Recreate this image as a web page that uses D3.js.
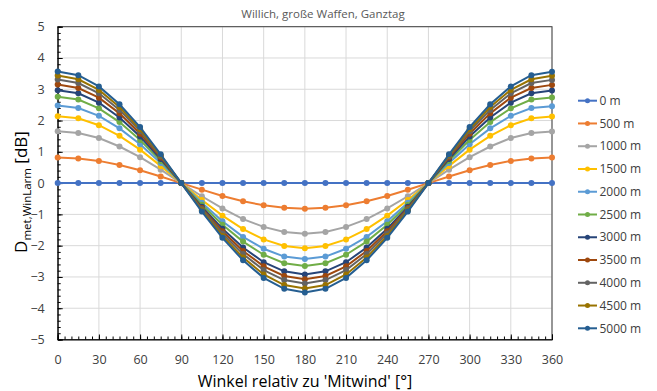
<!DOCTYPE html>
<html><head><meta charset="utf-8">
<script src="https://cdn.jsdelivr.net/npm/d3@7"></script>
<style>body{margin:0;background:#fff}svg{display:block}</style>
</head><body><svg id="c" width="657" height="391"></svg>
<script>
const angles = [0,15,30,45,60,75,90,105,120,135,150,165,180,195,210,225,240,255,270,285,300,315,330,345,360];
const seriesNames = ["0 m","500 m","1000 m","1500 m","2000 m","2500 m","3000 m","3500 m","4000 m","4500 m","5000 m"];
const colors = ["#4472C4","#ED7D31","#A5A5A5","#FFC000","#5B9BD5","#70AD47","#264478","#9E480E","#636363","#997300","#255E91"];
const s0    = [0,0,0,0,0,0,0,0,0,0,0,0,0,0,0,0,0,0,0,0,0,0,0,0,0];
const s500  = [0.82,0.79,0.71,0.58,0.41,0.21,0,-0.21,-0.41,-0.58,-0.71,-0.79,-0.82,-0.79,-0.71,-0.58,-0.41,-0.21,0,0.21,0.41,0.58,0.71,0.79,0.82];
const s1000 = [1.66,1.60,1.44,1.17,0.83,0.43,0,-0.42,-0.81,-1.15,-1.40,-1.56,-1.62,-1.56,-1.40,-1.15,-0.81,-0.42,0,0.43,0.83,1.17,1.44,1.60,1.65];
const s1500 = [2.14,2.07,1.85,1.51,1.07,0.55,0,-0.54,-1.04,-1.47,-1.80,-2.01,-2.08,-2.01,-1.80,-1.47,-1.04,-0.54,0,0.55,1.07,1.51,1.85,2.07,2.13];
const s2000 = [2.48,2.40,2.15,1.75,1.24,0.64,0,-0.63,-1.22,-1.72,-2.10,-2.35,-2.43,-2.35,-2.10,-1.72,-1.22,-0.63,0,0.64,1.24,1.75,2.15,2.40,2.46];
const s2500 = [2.76,2.67,2.39,1.95,1.38,0.71,0,-0.69,-1.33,-1.87,-2.29,-2.56,-2.65,-2.56,-2.29,-1.87,-1.33,-0.69,0,0.71,1.38,1.95,2.39,2.67,2.74];
const s3000 = [2.97,2.87,2.57,2.10,1.49,0.77,0,-0.76,-1.46,-2.06,-2.53,-2.82,-2.92,-2.82,-2.53,-2.06,-1.46,-0.76,0,0.77,1.49,2.10,2.57,2.87,2.96];
const s3500 = [3.15,3.04,2.73,2.23,1.58,0.82,0,-0.80,-1.54,-2.17,-2.66,-2.97,-3.07,-2.97,-2.66,-2.17,-1.54,-0.80,0,0.82,1.58,2.23,2.73,3.04,3.14];
const s4000 = [3.31,3.20,2.87,2.34,1.66,0.86,0,-0.83,-1.61,-2.27,-2.78,-3.10,-3.21,-3.10,-2.78,-2.27,-1.61,-0.83,0,0.86,1.66,2.34,2.87,3.20,3.30];
const s4500 = [3.44,3.32,2.98,2.43,1.72,0.89,0,-0.87,-1.69,-2.38,-2.92,-3.26,-3.37,-3.26,-2.92,-2.38,-1.69,-0.87,0,0.89,1.72,2.43,2.98,3.32,3.43];
const s5000 = [3.57,3.45,3.09,2.52,1.79,0.92,0,-0.91,-1.75,-2.47,-3.03,-3.38,-3.50,-3.38,-3.03,-2.47,-1.75,-0.91,0,0.92,1.79,2.52,3.09,3.45,3.56];
const seriesValues = [s0,s500,s1000,s1500,s2000,s2500,s3000,s3500,s4000,s4500,s5000];
const xTicks = [0,30,60,90,120,150,180,210,240,270,300,330,360];
const yTicks = [-5,-4,-3,-2,-1,0,1,2,3,4,5];
const title = "Willich, große Waffen, Ganztag";

const svg = d3.select("#c");
const L = 57.7, R = 552, T = 26.7, B = 339.5;
const x = d3.scaleLinear().domain([0,360]).range([L,R]);
const y = d3.scaleLinear().domain([-5,5]).range([B,T]);
const font = "'Open Sans', sans-serif";

// gridlines
const g = svg.append("g");
g.selectAll("line.gx").data(xTicks.slice(1)).join("line")
  .attr("x1",d=>x(d)).attr("x2",d=>x(d)).attr("y1",T).attr("y2",B)
  .attr("stroke","#d9d9d9").attr("stroke-width",1);
g.selectAll("line.gy").data(yTicks.slice(1)).join("line")
  .attr("x1",L).attr("x2",R).attr("y1",d=>y(d)).attr("y2",d=>y(d))
  .attr("stroke","#d9d9d9").attr("stroke-width",1);

// frame
svg.append("rect").attr("x",L).attr("y",T).attr("width",R-L).attr("height",B-T)
  .attr("fill","none").attr("stroke","#404040").attr("stroke-width",1);

// axes with inside ticks
const xMinor = d3.range(0,361,5);
const yMinor = d3.range(-5,5.001,0.2).map(v=>+v.toFixed(1));
svg.append("g").attr("transform",`translate(0,${B})`)
  .call(d3.axisBottom(x).tickValues(xMinor).tickSize(-3).tickFormat(""))
  .call(a=>a.select(".domain").remove())
  .call(a=>a.selectAll("line").attr("stroke","#000"));
svg.append("g").attr("transform",`translate(0,${B})`)
  .call(d3.axisBottom(x).tickValues(xTicks).tickSize(-5).tickPadding(16).tickFormat(d3.format("d")))
  .call(a=>a.select(".domain").attr("stroke","#000"))
  .call(a=>a.selectAll("line").attr("stroke","#000"))
  .call(a=>a.selectAll("text").attr("font-family",font).attr("font-size",12.5).attr("fill","#404040"));
svg.append("g").attr("transform",`translate(${L},0)`)
  .call(d3.axisLeft(y).tickValues(yMinor).tickSize(-3).tickFormat(""))
  .call(a=>a.select(".domain").remove())
  .call(a=>a.selectAll("line").attr("stroke","#000"));
svg.append("g").attr("transform",`translate(${L},0)`)
  .call(d3.axisLeft(y).tickValues(yTicks).tickSize(-5).tickPadding(13).tickFormat(d3.format("d")))
  .call(a=>a.select(".domain").attr("stroke","#000"))
  .call(a=>a.selectAll("line").attr("stroke","#000"))
  .call(a=>a.selectAll("text").attr("font-family",font).attr("font-size",12.5).attr("fill","#404040"));

// series
const line = d3.line().x((d,i)=>x(angles[i])).y(d=>y(d));
seriesValues.forEach((vals,k)=>{
  const sg = svg.append("g");
  sg.append("path").datum(vals).attr("d",line).attr("fill","none")
    .attr("stroke",colors[k]).attr("stroke-width",2);
  sg.selectAll("circle").data(vals).join("circle")
    .attr("cx",(d,i)=>x(angles[i])).attr("cy",d=>y(d)).attr("r",3)
    .attr("fill",colors[k]);
});

// title
svg.append("text").attr("x",323).attr("y",18).attr("text-anchor","middle")
  .attr("font-family",font).attr("font-size",11.5).attr("fill","#595959").text(title);

// x label
svg.append("text").attr("x",305).attr("y",387).attr("text-anchor","middle")
  .attr("font-family",font).attr("font-size",16).attr("fill","#000")
  .text("Winkel relativ zu 'Mitwind' [°]");

// y label
const yl = svg.append("text").attr("transform","translate(27,192) rotate(-90)")
  .attr("text-anchor","middle").attr("font-family",font).attr("font-size",17).attr("fill","#000");
yl.append("tspan").text("D");
yl.append("tspan").attr("font-size",11.5).attr("dy",4).text("met,WinLarm");
yl.append("tspan").attr("dy",-4).text(" [dB]");

// legend
const ly = d3.scaleLinear().domain([0,10]).range([100.7,328.3]);
const lg = svg.append("g");
seriesNames.forEach((n,k)=>{
  const yy = ly(k);
  lg.append("line").attr("x1",578).attr("x2",597).attr("y1",yy).attr("y2",yy)
    .attr("stroke",colors[k]).attr("stroke-width",2);
  lg.append("circle").attr("cx",587.5).attr("cy",yy).attr("r",2.5).attr("fill",colors[k]);
  lg.append("text").attr("x",599.5).attr("y",yy).attr("dy","0.35em")
    .attr("font-family",font).attr("font-size",12).attr("fill","#404040").text(n);
});
</script></body></html>
